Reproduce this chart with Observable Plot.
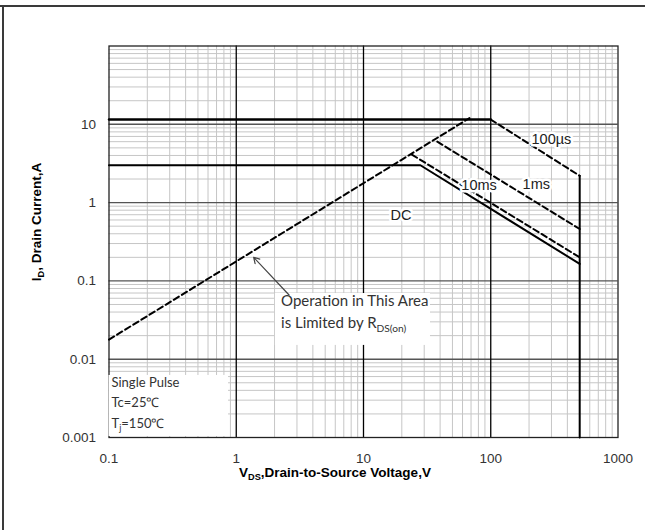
<!DOCTYPE html>
<html><head><meta charset="utf-8">
<script src="https://cdn.jsdelivr.net/npm/d3@7"></script>
<script src="https://cdn.jsdelivr.net/npm/@observablehq/plot@0.6"></script>
<style>
body{margin:0;background:#fff;}
#wrap{position:relative;width:645px;height:530px;overflow:hidden;background:#fff;}
#frameTop{position:absolute;left:0;top:5px;width:645px;height:2px;background:#3a3a3a;}
#frameLeft{position:absolute;left:2px;top:5px;width:2px;height:530px;background:#3a3a3a;}
#wrap svg{position:absolute;left:0;top:0;}
</style></head><body>
<div id="wrap"><div id="frameTop"></div><div id="frameLeft"></div></div>
<script>
// ---- tick labels ----
const xTicks = [0.1, 1, 10, 100, 1000];
const yTicks = [0.001, 0.01, 0.1, 1, 10];
const xMajor = [1, 10, 100];
const yMajor = [0.01, 0.1, 1, 10];

// ---- curves (V in volts, I in amps) ----
const pulseLimitV = [0.1, 100];
const pulseLimitI = [11.5, 11.5];
const dcV = [0.1, 28, 500];
const dcI = [3.0, 3.0, 0.165];
const us100V = [100, 500];
const us100I = [11.5, 2.2];
const ms1V = [38, 500];
const ms1I = [6.0, 0.46];
const ms10V = [24, 500];
const ms10I = [4.1, 0.2];
const rdsV = [0.1, 68];
const rdsI = [0.0178, 12];
const vmaxV = [500, 500];
const vmaxI = [2.2, 0.001];

// ---- curve labels ----
const labelText = ["100µs", "1ms", "10ms", "DC"];
const labelV = [300, 228, 81, 19.7];
const labelI = [6.4, 1.73, 1.66, 0.68];

const toRows = (V, I) => V.map((v, i) => ({V: v, I: I[i]}));
const minor = (lo, hi) => { const o = []; for (let e = lo; e < hi; e++) for (let m = 2; m <= 9; m++) o.push(+(m * 10 ** e).toPrecision(3)); return o; };

const plot = Plot.plot({
  width: 645, height: 530,
  marginLeft: 108.5, marginRight: 27.5, marginTop: 45.5, marginBottom: 93,
  style: {fontFamily: "'Liberation Sans', Arial, sans-serif", fontSize: "13px", background: "transparent"},
  x: {type: "log", domain: [0.1, 1000]},
  y: {type: "log", domain: [0.001, 100]},
  marks: [
    Plot.ruleX(minor(-1, 3), {stroke: "#c6c6c6", strokeWidth: 1}),
    Plot.ruleY(minor(-3, 2), {stroke: "#c6c6c6", strokeWidth: 1}),
    Plot.ruleY(yMajor, {stroke: "#555", strokeWidth: 1.4}),
    Plot.ruleX(xMajor, {stroke: "#000", strokeWidth: 1.3}),
    Plot.frame({stroke: "#222", strokeWidth: 1.3}),
    // white boxes for legend and note
    Plot.rect([{x1: 0.1, x2: 0.87, y1: 0.00103, y2: 0.0062}], {x1: "x1", x2: "x2", y1: "y1", y2: "y2", fill: "white"}),
    Plot.rect([{x1: 2.03, x2: 33.6, y1: 0.015, y2: 0.069}], {x1: "x1", x2: "x2", y1: "y1", y2: "y2", fill: "white"}),
    Plot.axisX({ticks: xTicks, tickSize: 0, tickPadding: 16, tickFormat: d => String(d), fontSize: 13, fill: "#333", label: null}),
    Plot.axisY({ticks: yTicks, tickSize: 0, tickPadding: 13, tickFormat: d => String(d), fontSize: 13, fill: "#333", label: null}),
    // curves
    Plot.line(toRows(pulseLimitV, pulseLimitI), {x: "V", y: "I", stroke: "#000", strokeWidth: 2.4}),
    Plot.line(toRows(dcV, dcI), {x: "V", y: "I", stroke: "#000", strokeWidth: 2}),
    Plot.line(toRows(vmaxV, vmaxI), {x: "V", y: "I", stroke: "#000", strokeWidth: 2}),
    Plot.line(toRows(us100V, us100I), {x: "V", y: "I", stroke: "#000", strokeWidth: 2, strokeDasharray: "6,3.5"}),
    Plot.line(toRows(ms1V, ms1I), {x: "V", y: "I", stroke: "#000", strokeWidth: 2, strokeDasharray: "6,3.5"}),
    Plot.line(toRows(ms10V, ms10I), {x: "V", y: "I", stroke: "#000", strokeWidth: 2, strokeDasharray: "6,3.5"}),
    Plot.line(toRows(rdsV, rdsI), {x: "V", y: "I", stroke: "#000", strokeWidth: 2, strokeDasharray: "6,3.5"}),
    Plot.text(labelText.map((t, i) => ({t, V: labelV[i], I: labelI[i]})), {
      x: "V", y: "I", text: "t", fontSize: 14.5, fill: "#222",
      stroke: "white", strokeWidth: 5, fontFamily: "'Liberation Sans', Arial, sans-serif"
    }),
    Plot.arrow([{x1: 2.6, y1: 0.066, x2: 1.37, y2: 0.2}], {
      x1: "x1", y1: "y1", x2: "x2", y2: "y2", stroke: "#444", strokeWidth: 1.2, headLength: 8, bend: 0
    })
  ]
});

document.getElementById("wrap").appendChild(plot);

const sx = plot.scale("x"), sy = plot.scale("y");
const svg = d3.select(plot);
svg.selectAll('g[aria-label$="tick label"]').attr("font-size", 13.5).selectAll("text").attr("font-size", 13.5);

function rich(x, y, parts, opts) {
  const t = svg.append("text").attr("x", x).attr("y", y)
    .attr("font-family", opts.family).attr("font-size", opts.size)
    .attr("font-weight", opts.weight || "normal").attr("fill", opts.fill || "#000")
    .attr("text-anchor", opts.anchor || "start");
  if (opts.rotate) t.attr("transform", `rotate(-90 ${x} ${y})`);
  let shifted = false;
  parts.forEach(p => {
    if (p.sub) {
      t.append("tspan").attr("font-size", opts.size * 0.68).attr("dy", opts.size * 0.25).text(p.sub);
      shifted = true;
    } else {
      const s = t.append("tspan").text(p.t);
      if (shifted) { s.attr("dy", -opts.size * 0.25); shifted = false; }
    }
  });
  return t;
}
const cal = "Lato, 'Open Sans', sans-serif";

// legend text
const legX = sx.apply(0.1) + 3;
rich(legX, sy.apply(0.0043), [{t: "Single Pulse"}], {family: cal, size: 13, fill: "#333"});
rich(legX, sy.apply(0.0024), [{t: "Tc=25\u2103"}], {family: cal, size: 13, fill: "#333"});
rich(legX, sy.apply(0.00132), [{t: "T"}, {sub: "j"}, {t: "=150\u2103"}], {family: cal, size: 13, fill: "#333"});

// note text
const noteX = sx.apply(2.27);
rich(noteX, sy.apply(0.047), [{t: "Operation in This Area"}], {family: cal, size: 15, fill: "#333"});
rich(noteX, sy.apply(0.0245), [{t: "is Limited by R"}, {sub: "DS(on)"}], {family: cal, size: 15, fill: "#333"});

// axis titles
const arial = "'Liberation Sans', Arial, sans-serif";
rich(335, 477, [{t: "V"}, {sub: "DS"}, {t: ",Drain-to-Source Voltage,V"}], {family: arial, size: 13.5, weight: "bold", anchor: "middle"});
rich(41, 222, [{t: "I"}, {sub: "D"}, {t: ", Drain Current,A"}], {family: arial, size: 13.5, weight: "bold", anchor: "middle", rotate: true});
</script>
</body></html>
